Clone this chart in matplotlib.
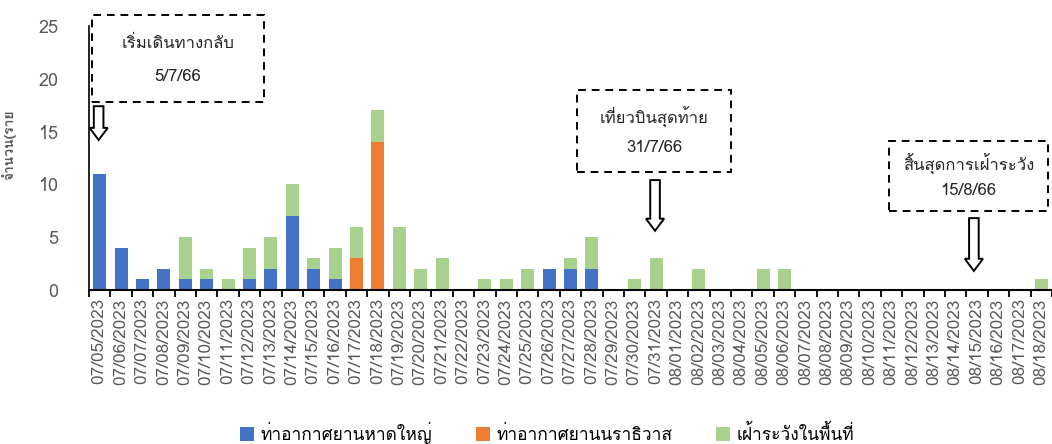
import matplotlib
matplotlib.use("Agg")
import matplotlib.pyplot as plt
from matplotlib import font_manager
from matplotlib.ft2font import FT2Font
from matplotlib.patches import Rectangle, FancyArrow
import numpy as np

dates = ['07/05/2023', '07/06/2023', '07/07/2023', '07/08/2023', '07/09/2023',
         '07/10/2023', '07/11/2023', '07/12/2023', '07/13/2023', '07/14/2023',
         '07/15/2023', '07/16/2023', '07/17/2023', '07/18/2023', '07/19/2023',
         '07/20/2023', '07/21/2023', '07/22/2023', '07/23/2023', '07/24/2023',
         '07/25/2023', '07/26/2023', '07/27/2023', '07/28/2023', '07/29/2023',
         '07/30/2023', '07/31/2023', '08/01/2023', '08/02/2023', '08/03/2023',
         '08/04/2023', '08/05/2023', '08/06/2023', '08/07/2023', '08/08/2023',
         '08/09/2023', '08/10/2023', '08/11/2023', '08/12/2023', '08/13/2023',
         '08/14/2023', '08/15/2023', '08/16/2023', '08/17/2023', '08/18/2023']

hatyai = [11, 4, 1, 2, 1, 1, 0, 1, 2, 7, 2, 1, 0, 0, 0,
          0, 0, 0, 0, 0, 0, 2, 2, 2, 0, 0, 0, 0, 0, 0,
          0, 0, 0, 0, 0, 0, 0, 0, 0, 0, 0, 0, 0, 0, 0]
narathiwat = [0, 0, 0, 0, 0, 0, 0, 0, 0, 0, 0, 0, 3, 14, 0,
              0, 0, 0, 0, 0, 0, 0, 0, 0, 0, 0, 0, 0, 0, 0,
              0, 0, 0, 0, 0, 0, 0, 0, 0, 0, 0, 0, 0, 0, 0]
surveil = [0, 0, 0, 0, 4, 1, 1, 3, 3, 3, 1, 3, 3, 3, 6,
           2, 3, 0, 1, 1, 2, 0, 1, 3, 0, 1, 3, 0, 2, 0,
           0, 2, 2, 0, 0, 0, 0, 0, 0, 0, 0, 0, 0, 0, 1]

series_names = ['ท่าอากาศยานหาดใหญ่', 'ท่าอากาศยานนราธิวาส', 'เฝ้าระวังในพื้นที่']
colors = ['#4472C4', '#ED7D31', '#A9D18E']

notes = [('เริ่มเดินทางกลับ', '5/7/66'),
         ('เที่ยวบินสุดท้าย', '31/7/66'),
         ('สิ้นสุดการเฝ้าระวัง', '15/8/66')]


# find an installed font that has Thai glyphs
def thai_font():
    for f in font_manager.fontManager.ttflist:
        try:
            cmap = FT2Font(f.fname).get_charmap()
        except Exception:
            continue
        if 0x0E40 in cmap and 0x0E01 in cmap:
            return f.name
    return None

fams = ['DejaVu Sans']
tf = thai_font()
if tf:
    fams = [tf, 'DejaVu Sans']
plt.rcParams['font.family'] = fams

gray = '#595959'
x = np.arange(len(dates))

fig = plt.figure(figsize=(10.52, 4.44), dpi=100)
ax = fig.add_axes([0.0846, 0.347, 0.9154, 0.5946])

b1 = ax.bar(x, hatyai, width=0.6, color=colors[0], label=series_names[0])
b2 = ax.bar(x, narathiwat, width=0.6, bottom=hatyai, color=colors[1], label=series_names[1])
base = np.array(hatyai) + np.array(narathiwat)
b3 = ax.bar(x, surveil, width=0.6, bottom=base, color=colors[2], label=series_names[2])

ax.set_xlim(-0.5, len(dates) - 0.5)
ax.set_ylim(0, 25)
ax.set_yticks([0, 5, 10, 15, 20, 25])
ax.tick_params(axis='y', length=0, pad=22, labelsize=13, labelcolor=gray)

ax.set_xticks(x)
ax.set_xticklabels(dates, rotation=90)
ax.set_xticks(np.arange(-0.5, len(dates)), minor=True)
ax.tick_params(axis='x', which='major', length=0, pad=6, labelsize=12.3, labelcolor=gray)
ax.tick_params(axis='x', which='minor', length=5, width=1.3, direction='out', color='black')

for s in ['top', 'right']:
    ax.spines[s].set_visible(False)
ax.spines['left'].set_linewidth(1.2)
ax.spines['bottom'].set_linewidth(1.5)

ax.set_ylabel('จำนวน(ราย', fontsize=10, color=gray, fontweight='bold', labelpad=8)
ax.yaxis.set_label_coords(-0.075, 0.55)

# annotation boxes: (x0, x1, y0, y1) in data units, arrow x, arrow top, arrow bottom
boxes = [(-0.36, 7.68, 17.8, 26.0, -0.05, 17.4, 14.2),
         (22.3, 29.5, 11.2, 18.9, 25.95, 10.4, 5.6),
         (36.9, 44.3, 7.5, 14.1, 40.85, 6.8, 1.8)]

for (t1, t2), (x0, x1, y0, y1, ax_x, a_top, a_bot) in zip(notes, boxes):
    r = Rectangle((x0, y0), x1 - x0, y1 - y0, fill=False, ec='black', lw=1.4,
                  ls=(0, (4, 3)), clip_on=False)
    ax.add_patch(r)
    xc = (x0 + x1) / 2
    h = y1 - y0
    ax.text(xc, y1 - h * 0.33, t1, ha='center', va='center', fontsize=12, color='#262626')
    ax.text(xc, y0 + h * 0.29, t2, ha='center', va='center', fontsize=12, color='#262626')
    arr = FancyArrow(ax_x, a_top, 0, a_bot - a_top, width=0.45, head_width=0.85,
                     head_length=1.15, length_includes_head=True, fc='white', ec='black',
                     lw=1.4, clip_on=False)
    ax.add_patch(arr)

fig.legend(handles=[b1, b2, b3], labels=series_names, loc='center', ncol=3,
           bbox_to_anchor=(0.52, 0.025), frameon=False, fontsize=12.5,
           handlelength=0.8, handleheight=0.8, handletextpad=0.4, columnspacing=2.5)

fig.savefig('out.png', dpi=100)
